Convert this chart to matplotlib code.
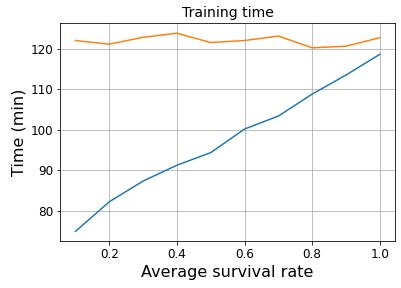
import matplotlib
matplotlib.use("Agg")
import matplotlib.pyplot as plt

survival_rate = [0.1, 0.2, 0.3, 0.4, 0.5, 0.6, 0.7, 0.8, 0.9, 1.0]
time_blue = [75.0, 82.3, 87.4, 91.3, 94.4, 100.2, 103.4, 108.8, 113.5, 118.6]
time_orange = [122.0, 121.1, 122.8, 123.8, 121.5, 122.0, 123.1, 120.2, 120.6, 122.7]

fig = plt.figure(figsize=(401/72, 288/72), dpi=72)
ax = fig.add_axes([60.3/401, 1 - 241.3/288, (395 - 60.3)/401, (241.3 - 23.3)/288])
ax.plot(survival_rate, time_blue, color="#1f77b4")
ax.plot(survival_rate, time_orange, color="#ff7f0e")
ax.grid(True)
ax.set_title("Training time", fontsize=14)
ax.set_xlabel("Average survival rate", fontsize=16)
ax.set_ylabel("Time (min)", fontsize=16)
ax.tick_params(labelsize=12)
fig.savefig("out.png", dpi=72)
